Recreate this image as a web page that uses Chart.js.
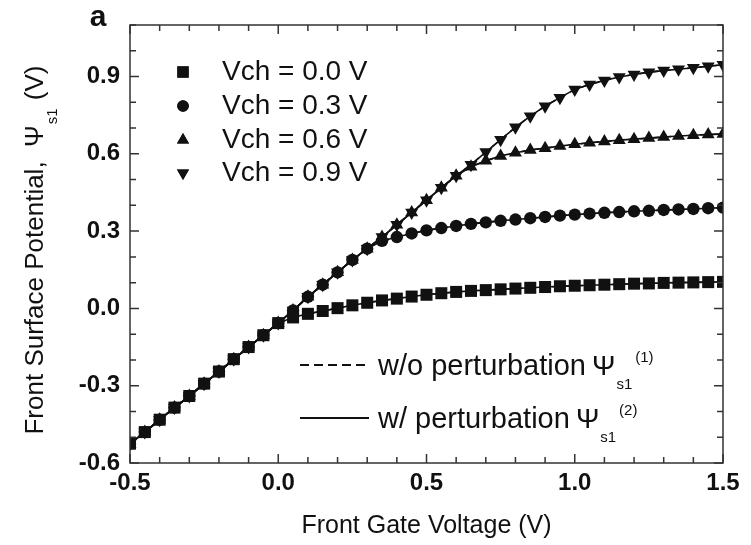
<!DOCTYPE html>
<html>
<head>
<meta charset="utf-8">
<script src="https://cdn.jsdelivr.net/npm/chart.js@4"></script>
<style>
  body { margin: 0; background: #fff; }
  #wrap { width: 751px; height: 545px; }
</style>
</head>
<body>
<div id="wrap"><canvas id="myChart" width="751" height="545"></canvas></div>
<script>
// front gate voltage (x), 0.05 V step
const gateV = [-0.5, -0.45, -0.4, -0.35, -0.3, -0.25, -0.2, -0.15, -0.1, -0.05, 0, 0.05, 0.1, 0.15, 0.2, 0.25, 0.3, 0.35, 0.4, 0.45, 0.5,
    0.55, 0.6, 0.65, 0.7, 0.75, 0.8, 0.85, 0.9, 0.95, 1.0, 1.05, 1.1, 1.15, 1.2, 1.25, 1.3, 1.35, 1.4, 1.45, 1.5];

// front surface potential for each channel voltage
const vch00 = [-0.525, -0.48, -0.432, -0.385, -0.34, -0.292, -0.245, -0.197, -0.15, -0.104, -0.057, -0.035, -0.021, -0.01, 0.001, 0.012,
    0.022, 0.031, 0.038, 0.046, 0.053, 0.059, 0.064, 0.068, 0.071, 0.074, 0.077, 0.08, 0.083, 0.086, 0.088, 0.09, 0.092, 0.094, 0.096,
    0.097, 0.099, 0.1, 0.101, 0.102, 0.103];
const vch03 = [-0.525, -0.48, -0.432, -0.385, -0.34, -0.292, -0.245, -0.197, -0.15, -0.104, -0.057, -0.008, 0.045, 0.092, 0.14, 0.188,
    0.232, 0.262, 0.277, 0.291, 0.303, 0.312, 0.32, 0.328, 0.334, 0.34, 0.345, 0.35, 0.355, 0.36, 0.364, 0.368, 0.371, 0.374, 0.377,
    0.379, 0.382, 0.384, 0.386, 0.389, 0.391];
const vch06 = [-0.525, -0.48, -0.432, -0.385, -0.34, -0.292, -0.245, -0.197, -0.15, -0.104, -0.057, -0.008, 0.045, 0.092, 0.14, 0.188,
    0.232, 0.277, 0.325, 0.372, 0.42, 0.468, 0.515, 0.55, 0.573, 0.592, 0.604, 0.615, 0.622, 0.63, 0.637, 0.643, 0.648, 0.653, 0.657,
    0.661, 0.665, 0.669, 0.672, 0.675, 0.677];
const vch09 = [-0.525, -0.48, -0.432, -0.385, -0.34, -0.292, -0.245, -0.197, -0.15, -0.104, -0.057, -0.008, 0.045, 0.092, 0.14, 0.188,
    0.232, 0.277, 0.325, 0.372, 0.42, 0.468, 0.515, 0.558, 0.607, 0.655, 0.703, 0.746, 0.785, 0.818, 0.85, 0.869, 0.885, 0.898, 0.908,
    0.917, 0.923, 0.928, 0.934, 0.94, 0.946];

const seriesNames = ['Vch = 0.0 V', 'Vch = 0.3 V', 'Vch = 0.6 V', 'Vch = 0.9 V'];
const seriesValues = [vch00, vch03, vch06, vch09];
const markerStyles = ['rect', 'circle', 'triangle', 'triangle'];
const markerRotation = [0, 0, 0, 180];
const markerRadius = [8.5, 6.2, 7.5, 7.5];
const legendRadius = [8, 5.8, 7, 7];

const xTicksMajor = 0.5;
const yTicksMajor = 0.3;

const ink = '#111';
const font = '"Liberation Sans", Arial, Helvetica, sans-serif';

const toPoints = (vals) => vals.map((v, i) => ({ x: gateV[i], y: v }));
const isMultiple = (v, step) => Math.abs(Math.round(v / step) * step - v) < 1e-6;

const datasets = [];
seriesValues.forEach((vals, i) => {
    datasets.push({
        label: seriesNames[i],
        data: toPoints(vals),
        borderColor: ink,
        borderWidth: 1.6,
        pointStyle: markerStyles[i],
        rotation: markerRotation[i],
        pointRadius: markerRadius[i],
        pointBackgroundColor: ink,
        pointBorderWidth: 0,
        clip: 0
    });
    // dashed: w/o perturbation
    datasets.push({
        label: seriesNames[i] + ' (1)',
        data: toPoints(vals),
        borderColor: ink,
        borderWidth: 1.6,
        borderDash: [7, 5],
        pointRadius: 0,
        clip: 0
    });
});

// frame, inward ticks, legends and titles
const decor = {
    id: 'decor',
    afterDraw(chart) {
        const { ctx, chartArea: a, scales: { x, y } } = chart;
        ctx.save();
        ctx.strokeStyle = '#333';
        ctx.lineWidth = 1.5;
        ctx.strokeRect(a.left, a.top, a.right - a.left, a.bottom - a.top);

        ctx.beginPath();
        x.ticks.forEach(t => {
            const px = x.getPixelForValue(t.value);
            const len = isMultiple(t.value, xTicksMajor) ? 9 : 6;
            ctx.moveTo(px, a.bottom); ctx.lineTo(px, a.bottom - len);
            ctx.moveTo(px, a.top); ctx.lineTo(px, a.top + len);
        });
        y.ticks.forEach(t => {
            const py = y.getPixelForValue(t.value);
            const len = isMultiple(t.value, yTicksMajor) ? 9 : 6;
            ctx.moveTo(a.left, py); ctx.lineTo(a.left + len, py);
            ctx.moveTo(a.right, py); ctx.lineTo(a.right - len, py);
        });
        ctx.stroke();

        // series legend
        ctx.fillStyle = ink;
        ctx.textBaseline = 'middle';
        ctx.textAlign = 'left';
        ctx.font = '28px ' + font;
        const rows = [72, 106, 140, 173];
        seriesNames.forEach((name, i) => {
            Chart.helpers.drawPoint(ctx, {
                pointStyle: markerStyles[i], rotation: markerRotation[i],
                radius: legendRadius[i], borderWidth: 0
            }, 183, rows[i]);
            ctx.fill();
            ctx.fillText(name, 222, rows[i]);
        });

        // line legend
        ctx.lineWidth = 2;
        ctx.strokeStyle = ink;
        const lineRows = [{ y: 365, dash: [9, 5], txt: 'w/o perturbation ', sup: '(1)' },
                          { y: 418, dash: [], txt: 'w/ perturbation ', sup: '(2)' }];
        lineRows.forEach(r => {
            ctx.setLineDash(r.dash);
            ctx.beginPath();
            ctx.moveTo(300, r.y); ctx.lineTo(369, r.y);
            ctx.stroke();
            ctx.setLineDash([]);
            const base = r.y + 10;
            ctx.textBaseline = 'alphabetic';
            ctx.font = '29px ' + font;
            ctx.fillText(r.txt, 378, base);
            let px = 378 + ctx.measureText(r.txt).width - 2;
            ctx.font = '28px ' + font;
            ctx.fillText('Ψ', px, base);
            px += ctx.measureText('Ψ').width + 1;
            ctx.font = '15px ' + font;
            ctx.fillText('s1', px, base + 14);
            px += ctx.measureText('s1').width + 3;
            ctx.fillText(r.sup, px, base - 13);
        });

        // panel letter
        ctx.font = 'bold 30px ' + font;
        ctx.textAlign = 'center';
        ctx.textBaseline = 'middle';
        ctx.fillText('a', 98, 18);

        // x title
        ctx.font = '25px ' + font;
        ctx.fillText('Front Gate Voltage (V)', (a.left + a.right) / 2, 526);

        // y title (rotated)
        ctx.translate(36, 250);
        ctx.rotate(-Math.PI / 2);
        ctx.textAlign = 'left';
        ctx.textBaseline = 'alphabetic';
        const p1 = 'Front Surface Potential,  Ψ';
        const p2 = 's1';
        const p3 = ' (V)';
        ctx.font = '26px ' + font;
        const w1 = ctx.measureText(p1).width;
        const w3 = ctx.measureText(p3).width;
        ctx.font = '15px ' + font;
        const w2 = ctx.measureText(p2).width;
        let sx = -(w1 + w2 + w3 + 2) / 2;
        ctx.font = '26px ' + font;
        ctx.fillText(p1, sx, 7);
        sx += w1 + 1;
        ctx.font = '15px ' + font;
        ctx.fillText(p2, sx, 21);
        sx += w2 + 1;
        ctx.font = '26px ' + font;
        ctx.fillText(p3, sx, 7);
        ctx.restore();
    }
};

const ctx = document.getElementById('myChart');
const chart = new Chart(ctx, {
    type: 'line',
    data: { datasets: datasets },
    options: {
        responsive: false,
        animation: false,
        layout: { padding: { top: 25, right: 28, left: 0, bottom: 0 } },
        plugins: { legend: { display: false }, tooltip: { enabled: false } },
        scales: {
            x: {
                type: 'linear',
                min: -0.5,
                max: 1.5,
                grid: { display: false, drawTicks: false },
                border: { display: false },
                ticks: {
                    stepSize: 0.1,
                    autoSkip: false,
                    maxRotation: 0,
                    padding: 6,
                    color: ink,
                    font: { family: font, size: 24, weight: 'bold' },
                    callback: (v) => isMultiple(v, xTicksMajor) ? v.toFixed(1) : ''
                },
                afterFit: (s) => { s.height = 82; }
            },
            y: {
                type: 'linear',
                min: -0.6,
                max: 1.1,
                grid: { display: false, drawTicks: false },
                border: { display: false },
                ticks: {
                    stepSize: 0.1,
                    autoSkip: false,
                    padding: 10,
                    color: ink,
                    font: { family: font, size: 24, weight: 'bold' },
                    callback: (v) => isMultiple(v, yTicksMajor) ? v.toFixed(1) : ''
                },
                afterFit: (s) => { s.width = 130; }
            }
        }
    },
    plugins: [decor]
});
</script>
</body>
</html>
